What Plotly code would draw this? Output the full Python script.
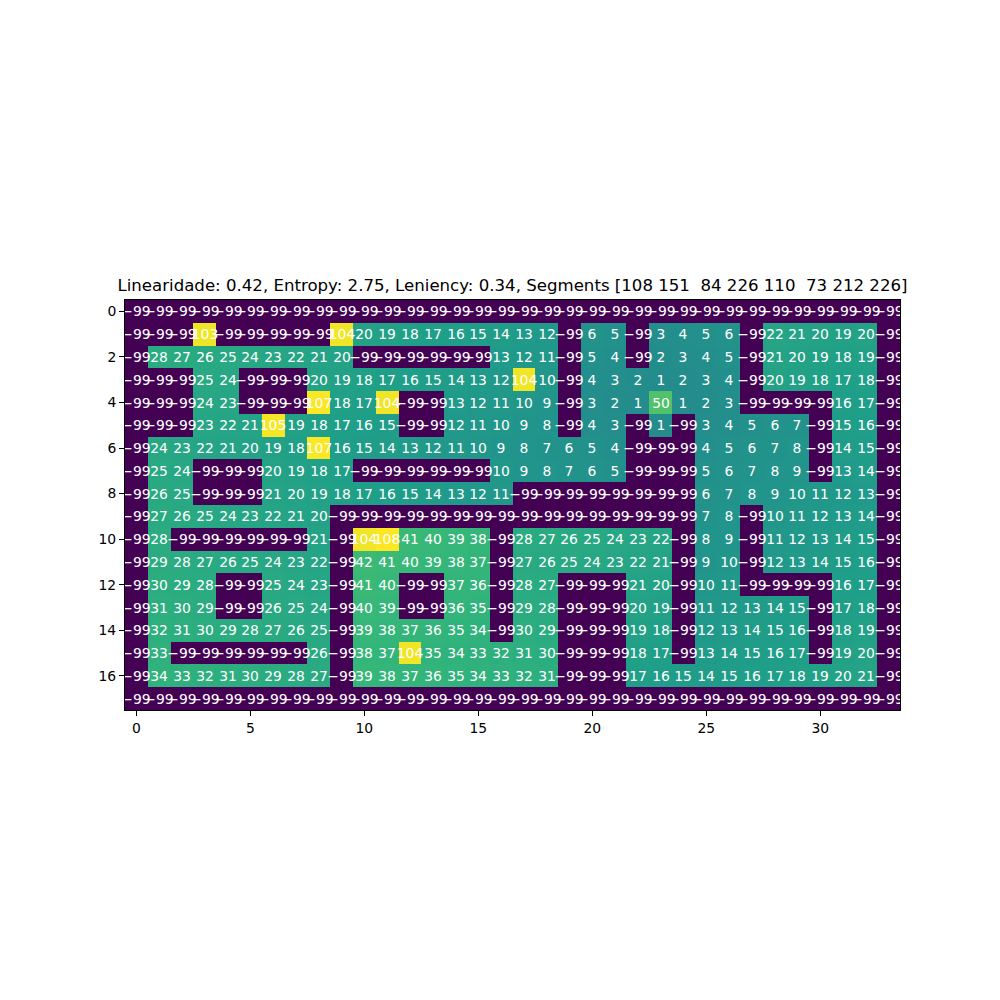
import plotly.graph_objects as go

N = -99
row0 = [N] * 34
row1 = [N, N, N, 103, N, N, N, N, N, 104, 20, 19, 18, 17, 16, 15, 14, 13, 12, N, 6, 5, N, 3, 4, 5, 6, N, 22, 21, 20, 19, 20, N]
row2 = [N, 28, 27, 26, 25, 24, 23, 22, 21, 20, N, N, N, N, N, N, 13, 12, 11, N, 5, 4, N, 2, 3, 4, 5, N, 21, 20, 19, 18, 19, N]
row3 = [N, N, N, 25, 24, N, N, N, 20, 19, 18, 17, 16, 15, 14, 13, 12, 104, 10, N, 4, 3, 2, 1, 2, 3, 4, N, 20, 19, 18, 17, 18, N]
row4 = [N, N, N, 24, 23, N, N, N, 107, 18, 17, 104, N, N, 13, 12, 11, 10, 9, N, 3, 2, 1, 50, 1, 2, 3, N, N, N, N, 16, 17, N]
row5 = [N, N, N, 23, 22, 21, 105, 19, 18, 17, 16, 15, N, N, 12, 11, 10, 9, 8, N, 4, 3, N, 1, N, 3, 4, 5, 6, 7, N, 15, 16, N]
row6 = [N, 24, 23, 22, 21, 20, 19, 18, 107, 16, 15, 14, 13, 12, 11, 10, 9, 8, 7, 6, 5, 4, N, N, N, 4, 5, 6, 7, 8, N, 14, 15, N]
row7 = [N, 25, 24, N, N, N, 20, 19, 18, 17, N, N, N, N, N, N, 10, 9, 8, 7, 6, 5, N, N, N, 5, 6, 7, 8, 9, N, 13, 14, N]
row8 = [N, 26, 25, N, N, N, 21, 20, 19, 18, 17, 16, 15, 14, 13, 12, 11, N, N, N, N, N, N, N, N, 6, 7, 8, 9, 10, 11, 12, 13, N]
row9 = [N, 27, 26, 25, 24, 23, 22, 21, 20, N, N, N, N, N, N, N, N, N, N, N, N, N, N, N, N, 7, 8, N, 10, 11, 12, 13, 14, N]
row10 = [N, 28, N, N, N, N, N, N, 21, N, 104, 108, 41, 40, 39, 38, N, 28, 27, 26, 25, 24, 23, 22, N, 8, 9, N, 11, 12, 13, 14, 15, N]
row11 = [N, 29, 28, 27, 26, 25, 24, 23, 22, N, 42, 41, 40, 39, 38, 37, N, 27, 26, 25, 24, 23, 22, 21, N, 9, 10, N, 12, 13, 14, 15, 16, N]
row12 = [N, 30, 29, 28, N, N, 25, 24, 23, N, 41, 40, N, N, 37, 36, N, 28, 27, N, N, N, 21, 20, N, 10, 11, N, N, N, N, 16, 17, N]
row13 = [N, 31, 30, 29, N, N, 26, 25, 24, N, 40, 39, N, N, 36, 35, N, 29, 28, N, N, N, 20, 19, N, 11, 12, 13, 14, 15, N, 17, 18, N]
row14 = [N, 32, 31, 30, 29, 28, 27, 26, 25, N, 39, 38, 37, 36, 35, 34, N, 30, 29, N, N, N, 19, 18, N, 12, 13, 14, 15, 16, N, 18, 19, N]
row15 = [N, 33, N, N, N, N, N, N, 26, N, 38, 37, 104, 35, 34, 33, 32, 31, 30, N, N, N, 18, 17, N, 13, 14, 15, 16, 17, N, 19, 20, N]
row16 = [N, 34, 33, 32, 31, 30, 29, 28, 27, N, 39, 38, 37, 36, 35, 34, 33, 32, 31, N, N, N, 17, 16, 15, 14, 15, 16, 17, 18, 19, 20, 21, N]
row17 = [N] * 34

grid = [row0, row1, row2, row3, row4, row5, row6, row7, row8, row9,
        row10, row11, row12, row13, row14, row15, row16, row17]

x_ticks = [0, 5, 10, 15, 20, 25, 30]
y_ticks = [0, 2, 4, 6, 8, 10, 12, 14, 16]

title_text = "Linearidade: 0.42, Entropy: 2.75, Leniency: 0.34, Segments [108 151  84 226 110  73 212 226]"
title_text = title_text.replace("  ", " \u00a0")

font_family = "DejaVu Sans"

fig = go.Figure(go.Heatmap(
    z=grid,
    x=list(range(34)),
    y=list(range(18)),
    colorscale="Viridis",
    zmin=-99, zmax=108,
    showscale=False,
    texttemplate="%{z}",
    textfont=dict(color="white", size=13.9, family=font_family),
    hoverinfo="skip",
    xgap=0, ygap=0,
))

fig.update_layout(
    width=1000, height=1000,
    margin=dict(l=117, r=108, t=292, b=298),
    paper_bgcolor="white",
    plot_bgcolor="white",
    font=dict(family=font_family, size=13.9, color="black"),
    title=dict(text=title_text, x=0.5045, xanchor="center", xref="container",
               y=0.723, yanchor="middle", yref="container",
               font=dict(size=16.6, family=font_family, color="black")),
)
fig.update_xaxes(range=[-0.5, 33.5], tickvals=x_ticks, ticks="outside", ticklen=5,
                 tickcolor="black", showline=True, linecolor="black", mirror=True,
                 showgrid=False, zeroline=False, tickfont=dict(size=13.9))
fig.update_yaxes(range=[17.5, -0.5], tickvals=y_ticks, ticks="outside", ticklen=5,
                 tickcolor="black", showline=True, linecolor="black", mirror=True,
                 showgrid=False, zeroline=False, tickfont=dict(size=13.9))

fig.write_html("out.html")
